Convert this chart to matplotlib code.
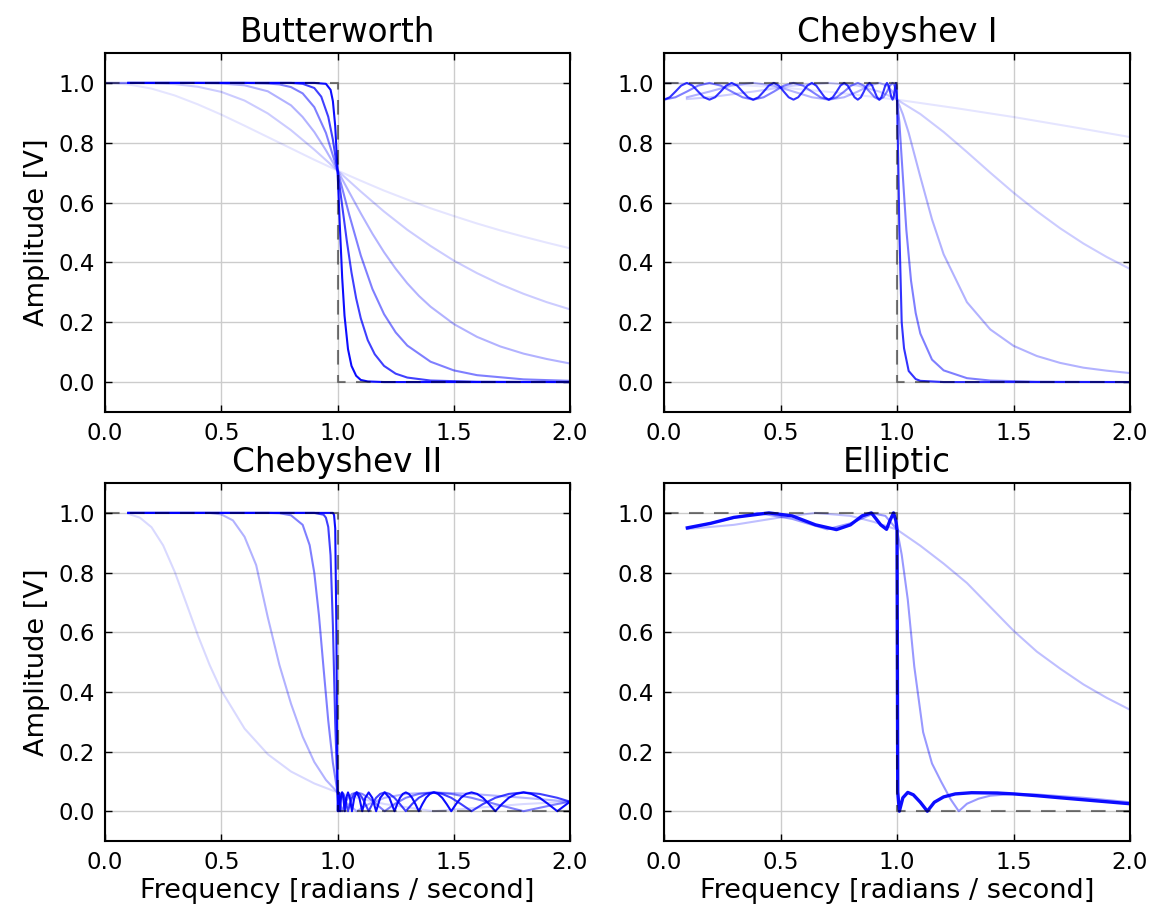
import matplotlib
matplotlib.use("Agg")
import matplotlib.pyplot as plt

# ideal brick-wall response (dashed)
ideal_w = [0.0, 1.0, 1.0, 2.0]
ideal_h = [1.0, 1.0, 0.0, 0.0]

# ---- Butterworth, orders 1, 2, 4, 8, 16, 32 ----
bw_w1 = [0.0, 0.1, 0.2, 0.3, 0.4, 0.5, 0.6, 0.7, 0.8, 0.9, 1.0, 1.1, 1.2, 1.3, 1.4, 1.5, 1.6, 1.7, 1.8, 1.9, 2.0]
bw_h1 = [1.0, 0.995, 0.981, 0.958, 0.928, 0.894, 0.857, 0.819, 0.781, 0.743, 0.707, 0.673, 0.640, 0.610, 0.581, 0.555, 0.530, 0.507, 0.486, 0.466, 0.447]
bw_w2 = [0.0, 0.1, 0.2, 0.3, 0.4, 0.5, 0.6, 0.7, 0.8, 0.9, 1.0, 1.1, 1.2, 1.3, 1.4, 1.5, 1.6, 1.7, 1.8, 1.9, 2.0]
bw_h2 = [1.0, 1.0, 0.999, 0.996, 0.987, 0.970, 0.941, 0.898, 0.842, 0.777, 0.707, 0.637, 0.570, 0.509, 0.455, 0.406, 0.364, 0.327, 0.295, 0.267, 0.243]
bw_w4 = [0.0, 0.2, 0.4, 0.5, 0.6, 0.7, 0.8, 0.85, 0.9, 0.95, 1.0, 1.05, 1.1, 1.15, 1.2, 1.25, 1.3, 1.35, 1.4, 1.5, 1.6, 1.7, 1.8, 1.9, 2.0]
bw_h4 = [1.0, 1.0, 1.0, 0.998, 0.992, 0.972, 0.925, 0.886, 0.836, 0.775, 0.707, 0.635, 0.564, 0.496, 0.434, 0.379, 0.330, 0.288, 0.252, 0.194, 0.151, 0.119, 0.095, 0.077, 0.062]
bw_w8 = [0.1, 0.5, 0.6, 0.7, 0.75, 0.8, 0.85, 0.9, 0.95, 1.0, 1.05, 1.1, 1.15, 1.2, 1.25, 1.3, 1.4, 1.5, 1.6, 1.8, 2.0]
bw_h8 = [1.0, 1.0, 1.0, 0.998, 0.995, 0.986, 0.965, 0.919, 0.833, 0.707, 0.560, 0.423, 0.311, 0.227, 0.166, 0.122, 0.068, 0.039, 0.023, 0.009, 0.004]
bw_w16 = [0.1, 0.7, 0.8, 0.85, 0.9, 0.93, 0.96, 0.98, 1.0, 1.02, 1.04, 1.06, 1.08, 1.1, 1.13, 1.16, 1.2, 1.25, 1.3, 1.4, 1.6, 2.0]
bw_h16 = [1.0, 1.0, 1.0, 0.997, 0.983, 0.954, 0.887, 0.810, 0.707, 0.589, 0.471, 0.366, 0.280, 0.213, 0.140, 0.093, 0.054, 0.028, 0.015, 0.005, 0.001, 0.0]
bw_w32 = [0.1, 0.9, 0.95, 0.97, 0.98, 0.99, 1.0, 1.01, 1.02, 1.03, 1.045, 1.06, 1.08, 1.1, 1.13, 1.2, 1.5, 2.0]
bw_h32 = [1.0, 1.0, 0.997, 0.977, 0.939, 0.856, 0.707, 0.520, 0.348, 0.222, 0.110, 0.054, 0.021, 0.007, 0.002, 0.0, 0.0, 0.0]

# ---- Chebyshev I, orders 1, 2, 4, 8, 16 ----
c1_w1 = [0.0, 0.25, 0.5, 0.75, 1.0, 1.25, 1.5, 1.75, 2.0]
c1_h1 = [1.0, 0.996, 0.985, 0.967, 0.944, 0.916, 0.886, 0.853, 0.819]
c1_w2 = [0.098, 0.1951, 0.3827, 0.5556, 0.7071, 0.8315, 0.9239, 0.9808, 1.0,
         1.1, 1.2, 1.3, 1.4, 1.5, 1.6, 1.7, 1.8, 1.9, 2.0]
c1_h2 = [0.946, 0.952, 0.971, 0.991, 1.0, 0.991, 0.971, 0.952, 0.944,
         0.896, 0.836, 0.769, 0.700, 0.633, 0.571, 0.514, 0.463, 0.418, 0.378]
c1_w4 = [0.098, 0.1951, 0.2903, 0.3827, 0.4714, 0.5556, 0.6344, 0.7071, 0.7730, 0.8315, 0.8819, 0.9239, 0.9569, 0.9808, 0.9952, 1.0,
         1.025, 1.05, 1.1, 1.15, 1.2, 1.3, 1.4, 1.5, 1.6, 1.7, 1.8, 1.9, 2.0]
c1_h4 = [0.952, 0.971, 0.991, 1.0, 0.991, 0.971, 0.952, 0.944, 0.952, 0.971, 0.991, 1.0, 0.991, 0.971, 0.952, 0.944,
         0.895, 0.833, 0.686, 0.544, 0.427, 0.267, 0.176, 0.121, 0.087, 0.064, 0.048, 0.038, 0.030]
c1_w8 = [0.0, 0.0491, 0.0980, 0.1467, 0.1951, 0.2430, 0.2903, 0.3369, 0.3827, 0.4276, 0.4714, 0.5141, 0.5556, 0.5957, 0.6344, 0.6716,
         0.7071, 0.7410, 0.7730, 0.8032, 0.8315, 0.8577, 0.8819, 0.9040, 0.9239, 0.9415, 0.9569, 0.9700, 0.9808, 0.9892, 0.9952, 0.9988, 1.0,
         1.01, 1.02, 1.04, 1.06, 1.08, 1.1, 1.15, 1.2, 1.3, 1.4, 1.6, 2.0]
c1_h8 = [0.944, 0.952, 0.971, 0.991, 1.0, 0.991, 0.971, 0.952, 0.944, 0.952, 0.971, 0.991, 1.0, 0.991, 0.971, 0.952,
         0.944, 0.952, 0.971, 0.991, 1.0, 0.991, 0.971, 0.952, 0.944, 0.952, 0.971, 0.991, 1.0, 0.991, 0.971, 0.952, 0.944,
         0.868, 0.747, 0.508, 0.339, 0.231, 0.162, 0.075, 0.039, 0.013, 0.005, 0.001, 0.0]
c1_w16 = [0.0, 0.0245, 0.0491, 0.0736, 0.0980, 0.1224, 0.1467, 0.1710, 0.1951, 0.2191, 0.2430, 0.2667, 0.2903, 0.3137, 0.3369, 0.3599,
          0.3827, 0.4052, 0.4276, 0.4496, 0.4714, 0.4929, 0.5141, 0.5350, 0.5556, 0.5758, 0.5957, 0.6152, 0.6344, 0.6532, 0.6716, 0.6895,
          0.7071, 0.7243, 0.7410, 0.7572, 0.7730, 0.7884, 0.8032, 0.8176, 0.8315, 0.8449, 0.8577, 0.8701, 0.8819, 0.8932, 0.9040, 0.9142,
          0.9239, 0.9330, 0.9415, 0.9495, 0.9569, 0.9638, 0.9700, 0.9757, 0.9808, 0.9853, 0.9892, 0.9925, 0.9952, 0.9973, 0.9988, 0.9997, 1.0,
          1.005, 1.01, 1.02, 1.03, 1.05, 1.08, 1.1, 1.2, 2.0]
c1_h16 = [0.944, 0.952, 0.971, 0.991, 1.0, 0.991, 0.971, 0.952, 0.944, 0.952, 0.971, 0.991, 1.0, 0.991, 0.971, 0.952,
          0.944, 0.952, 0.971, 0.991, 1.0, 0.991, 0.971, 0.952, 0.944, 0.952, 0.971, 0.991, 1.0, 0.991, 0.971, 0.952,
          0.944, 0.952, 0.971, 0.991, 1.0, 0.991, 0.971, 0.952, 0.944, 0.952, 0.971, 0.991, 1.0, 0.991, 0.971, 0.952,
          0.944, 0.952, 0.971, 0.991, 1.0, 0.991, 0.971, 0.952, 0.944, 0.952, 0.971, 0.991, 1.0, 0.991, 0.971, 0.952, 0.944,
          0.747, 0.506, 0.200, 0.113, 0.037, 0.010, 0.004, 0.0, 0.0]

# ---- Chebyshev II, orders 2, 4, 8, 16, 32 ----
c2_w2 = [0.1, 0.15, 0.2, 0.25, 0.3, 0.35, 0.4, 0.45, 0.5, 0.6, 0.7, 0.8, 0.9, 1.0,
         1.0196, 1.0824, 1.2027, 1.4142, 1.8, 2.0]
c2_h2 = [0.997, 0.984, 0.952, 0.891, 0.802, 0.696, 0.588, 0.490, 0.405, 0.277, 0.191, 0.133, 0.093, 0.063,
         0.058, 0.045, 0.024, 0.0, 0.024, 0.032]
c2_w4 = [0.1, 0.45, 0.5, 0.55, 0.6, 0.65, 0.7, 0.75, 0.8, 0.85, 0.9, 0.95, 1.0,
         1.0048, 1.0196, 1.0450, 1.0824, 1.1339, 1.2027, 1.2936, 1.4142, 1.5763, 1.8, 2.0]
c2_h4 = [1.0, 1.0, 0.995, 0.975, 0.92, 0.825, 0.65, 0.49, 0.36, 0.25, 0.165, 0.105, 0.063,
         0.058, 0.045, 0.024, 0.0, 0.024, 0.045, 0.058, 0.063, 0.058, 0.045, 0.032]
c2_w8 = [0.1, 0.7, 0.75, 0.8, 0.85, 0.88, 0.9, 0.92, 0.94, 0.96, 0.98,
         1.0, 1.0012, 1.0048, 1.0109, 1.0196, 1.0309, 1.0450, 1.0621, 1.0824, 1.1062, 1.1339, 1.1659, 1.2027, 1.2450,
         1.2936, 1.3496, 1.4142, 1.4891, 1.5763, 1.6787, 1.8, 1.9451, 2.0]
c2_h8 = [1.0, 1.0, 0.999, 0.992, 0.960, 0.892, 0.799, 0.657, 0.478, 0.304, 0.162,
         0.063, 0.058, 0.045, 0.024, 0.0, 0.024, 0.045, 0.058, 0.063, 0.058, 0.045, 0.024, 0.0, 0.024,
         0.045, 0.058, 0.063, 0.058, 0.045, 0.024, 0.0, 0.024, 0.032]
c2_w16 = [0.1, 0.9, 0.94, 0.95, 0.96, 0.97, 0.98, 0.99,
          1.0, 1.0003, 1.0012, 1.0027, 1.0048, 1.0076, 1.0109, 1.0149, 1.0196, 1.0249, 1.0309, 1.0376, 1.0450, 1.0532,
          1.0621, 1.0718, 1.0824, 1.0938, 1.1062, 1.1195, 1.1339, 1.1493, 1.1659, 1.1836, 1.2027, 1.2231, 1.2450, 1.2685,
          1.2936, 1.3206, 1.3496, 1.3807, 1.4142, 1.4502, 1.4891, 1.5310, 1.5763, 1.6254, 1.6787, 1.7367, 1.8, 1.8692, 1.9451, 2.0]
c2_h16 = [1.0, 1.0, 0.994, 0.984, 0.953, 0.858, 0.623, 0.296,
          0.063, 0.058, 0.045, 0.024, 0.0, 0.024, 0.045, 0.058, 0.063, 0.058, 0.045, 0.024, 0.0, 0.024,
          0.045, 0.058, 0.063, 0.058, 0.045, 0.024, 0.0, 0.024, 0.045, 0.058, 0.063, 0.058, 0.045, 0.024,
          0.0, 0.024, 0.045, 0.058, 0.063, 0.058, 0.045, 0.024, 0.0, 0.024, 0.045, 0.058, 0.063, 0.058, 0.045, 0.032]
c2_w32 = [0.1, 0.97, 0.98, 0.985, 0.99, 0.995, 0.998,
          1.0, 1.0003, 1.0012, 1.0027, 1.0048, 1.0076, 1.0109, 1.0149, 1.0196, 1.0249, 1.0309, 1.0376, 1.0450, 1.0532,
          1.0621, 1.0718, 1.0824, 1.0938, 1.1062, 1.1195, 1.1339, 1.1493, 1.1659, 1.1836, 1.2027, 1.2231, 1.2450,
          1.2565, 1.2685, 1.2808, 1.2936, 1.3069, 1.3206, 1.3349, 1.3496, 1.3649, 1.3807, 1.3972, 1.4142, 1.4319, 1.4502, 1.4693,
          1.4891, 1.5096, 1.5310, 1.5532, 1.5763, 1.6004, 1.6254, 1.6515, 1.6787, 1.7071, 1.7367, 1.7676, 1.8000, 1.8338, 1.8692, 1.9062,
          1.9451, 1.9859, 2.0]
c2_h32 = [1.0, 1.0, 1.0, 0.993, 0.948, 0.612, 0.236,
          0.063, 0.045, 0.0, 0.045, 0.063, 0.045, 0.0, 0.045, 0.063, 0.045, 0.0, 0.045, 0.063, 0.045,
          0.0, 0.045, 0.063, 0.045, 0.0, 0.045, 0.063, 0.045, 0.0, 0.045, 0.063, 0.045, 0.0,
          0.024, 0.045, 0.058, 0.063, 0.058, 0.045, 0.024, 0.0, 0.024, 0.045, 0.058, 0.063, 0.058, 0.045, 0.024,
          0.0, 0.024, 0.045, 0.058, 0.063, 0.058, 0.045, 0.024, 0.0, 0.024, 0.045, 0.058, 0.063, 0.058, 0.045, 0.024,
          0.0, 0.024, 0.032]

# ---- Elliptic, orders 2, 4, 6 ----
el_w2 = [0.1, 0.3, 0.5, 0.65, 0.8, 0.9, 1.0, 1.1, 1.2, 1.3, 1.4, 1.5, 1.6, 1.7, 1.8, 1.9, 2.0]
el_h2 = [0.946, 0.96, 0.985, 1.0, 0.99, 0.97, 0.944, 0.89, 0.83, 0.765, 0.685, 0.605, 0.535, 0.478, 0.425, 0.38, 0.34]
el_w4 = [0.1, 0.25, 0.4, 0.55, 0.7, 0.8, 0.9, 0.95, 1.0, 1.02, 1.046, 1.074, 1.112, 1.15, 1.19, 1.23, 1.265,
         1.3, 1.35, 1.4, 1.5, 1.6, 1.8, 2.0]
el_h4 = [0.947, 0.975, 1.0, 0.98, 0.945, 0.965, 0.998, 0.99, 0.944, 0.86, 0.71, 0.485, 0.265, 0.16, 0.098, 0.04, 0.0,
         0.025, 0.042, 0.052, 0.058, 0.056, 0.045, 0.03]
el_w6 = [0.1, 0.2, 0.3, 0.45, 0.55, 0.65, 0.74, 0.8, 0.85, 0.89, 0.93, 0.955, 0.97, 0.985, 0.995, 1.0, 1.003,
         1.01, 1.025, 1.046, 1.07, 1.1, 1.13, 1.16, 1.2, 1.25, 1.32, 1.43, 1.5, 1.6, 1.7, 1.85, 2.0]
el_h6 = [0.95, 0.965, 0.985, 1.0, 0.99, 0.96, 0.944, 0.96, 0.99, 1.0, 0.96, 0.945, 0.975, 1.0, 0.975, 0.944, 0.065,
         0.0, 0.045, 0.063, 0.055, 0.03, 0.0, 0.03, 0.048, 0.058, 0.062, 0.061, 0.058, 0.052, 0.045, 0.035, 0.025]

titles = ["Butterworth", "Chebyshev I", "Chebyshev II", "Elliptic"]
panel_curves = [
    [(bw_w1, bw_h1, 0.1), (bw_w2, bw_h2, 0.2), (bw_w4, bw_h4, 0.3),
     (bw_w8, bw_h8, 0.5), (bw_w16, bw_h16, 0.75), (bw_w32, bw_h32, 0.95)],
    [(c1_w1, c1_h1, 0.1), (c1_w2, c1_h2, 0.2), (c1_w4, c1_h4, 0.3),
     (c1_w8, c1_h8, 0.5), (c1_w16, c1_h16, 0.8)],
    [(c2_w2, c2_h2, 0.15), (c2_w4, c2_h4, 0.3), (c2_w8, c2_h8, 0.5),
     (c2_w16, c2_h16, 0.75), (c2_w32, c2_h32, 0.95)],
    [(el_w2, el_h2, 0.25), (el_w4, el_h4, 0.4), (el_w6, el_h6, 0.95)],
]

fig = plt.figure(figsize=(11.53, 9.06), dpi=100)
boxes = [[0.0911, 0.5453, 0.4033, 0.3962], [0.5759, 0.5453, 0.4042, 0.3962],
         [0.0911, 0.0717, 0.4033, 0.3951], [0.5759, 0.0717, 0.4042, 0.3951]]

for i, (box, title, curves) in enumerate(zip(boxes, titles, panel_curves)):
    ax = fig.add_axes(box)
    for w, h, a in curves:
        lw = 2.4 if (i == 3 and a > 0.9) else 1.5
        ax.plot(w, h, color='b', alpha=a, lw=lw)
    ax.plot(ideal_w, ideal_h, color='k', alpha=0.5, lw=1.5, linestyle=(0, (7, 5)))
    ax.set_xlim(0, 2)
    ax.set_ylim(-0.1, 1.1)
    ax.set_xticks([0.0, 0.5, 1.0, 1.5, 2.0])
    ax.set_yticks([0.0, 0.2, 0.4, 0.6, 0.8, 1.0])
    ax.grid(True, color='0.8', lw=1)
    ax.set_axisbelow(True)
    ax.tick_params(direction='in', length=5, width=1, top=True, right=True,
                   labelsize=16.5, pad=7)
    for s in ax.spines.values():
        s.set_linewidth(1.5)
    ax.set_title(title, fontsize=23.5, pad=8)
    if i % 2 == 0:
        ax.set_ylabel("Amplitude [V]", fontsize=19.5, labelpad=6)
    if i >= 2:
        ax.set_xlabel("Frequency [radians / second]", fontsize=19.5, labelpad=3)

fig.savefig("out.png", dpi=100)
